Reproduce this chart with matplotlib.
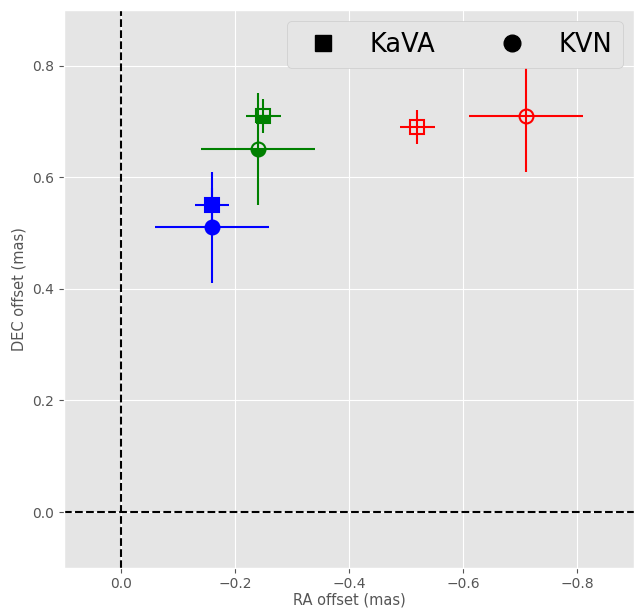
import matplotlib
matplotlib.use('Agg')
import matplotlib.pyplot as plt

plt.style.use('ggplot')

colors = ['blue', 'green', 'red']
fills = ['full', 'bottom', 'none']

# KaVA (squares)
kava_ra = [-0.16, -0.25, -0.52]
kava_dec = [0.55, 0.71, 0.69]
kava_ra_err = [0.03, 0.03, 0.03]
kava_dec_err = [0.03, 0.03, 0.03]

# KVN (circles)
kvn_ra = [-0.16, -0.24, -0.71]
kvn_dec = [0.51, 0.65, 0.71]
kvn_ra_err = [0.1, 0.1, 0.1]
kvn_dec_err = [0.1, 0.1, 0.1]

fig = plt.figure(figsize=(6.38, 6.1), dpi=100)
ax = fig.add_axes([0.1, 0.069, 0.894, 0.915])

ax.axvline(0, color='black', ls='--', lw=1.5)
ax.axhline(0, color='black', ls='--', lw=1.5)

for i in range(3):
    ax.errorbar(kvn_ra[i], kvn_dec[i], xerr=kvn_ra_err[i], yerr=kvn_dec_err[i],
                fmt='o', color=colors[i], fillstyle=fills[i], ms=10, mew=1.5,
                elinewidth=1.5, capsize=0)
    ax.errorbar(kava_ra[i], kava_dec[i], xerr=kava_ra_err[i], yerr=kava_dec_err[i],
                fmt='s', color=colors[i], fillstyle=fills[i], ms=10, mew=1.5,
                elinewidth=1.5, capsize=0)

ax.plot([], [], 's', color='black', ms=10, label='KaVA')
ax.plot([], [], 'o', color='black', ms=10, label='KVN')
ax.legend(loc='upper right', ncol=2, fontsize=18.5, markerscale=1.2,
          borderaxespad=0.45, framealpha=1)

ax.set_xlim(0.1, -0.9)
ax.set_ylim(-0.1, 0.9)
ax.set_xticks([0.0, -0.2, -0.4, -0.6, -0.8])
ax.set_yticks([0.0, 0.2, 0.4, 0.6, 0.8])
ax.tick_params(axis='x', pad=3)
ax.set_xlabel('RA offset (mas)', fontsize=10.5, labelpad=1)
ax.set_ylabel('DEC offset (mas)', fontsize=10.5)

fig.savefig('out.png', dpi=100)
